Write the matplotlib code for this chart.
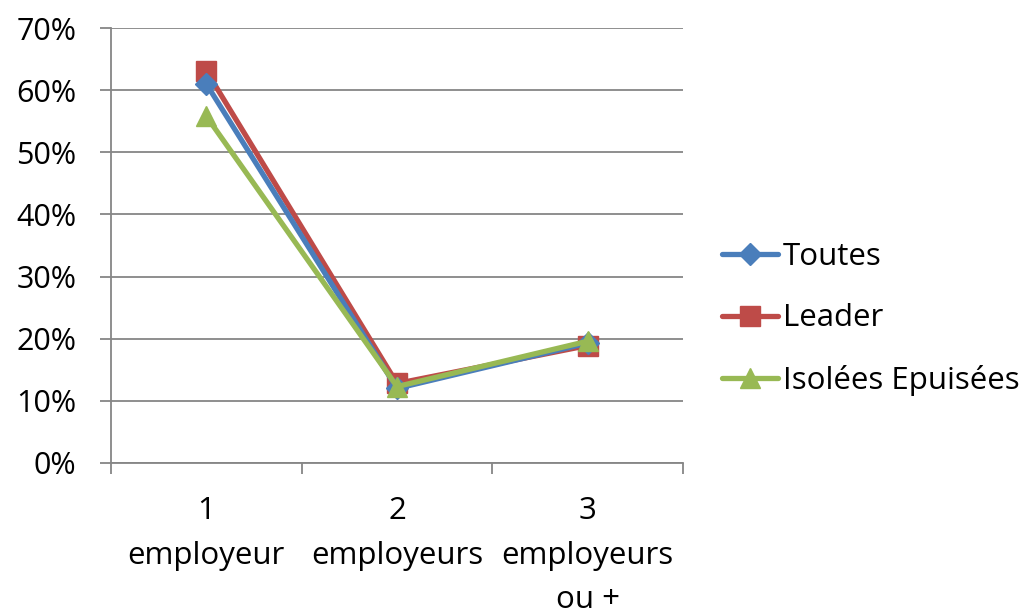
import matplotlib
matplotlib.use("Agg")
import matplotlib.pyplot as plt
from matplotlib.ticker import FixedLocator, PercentFormatter

categories = ["1\nemployeur", "2\nemployeurs", "3\nemployeurs\nou +"]
toutes = [61.0, 12.0, 19.3]
leader = [63.1, 12.8, 18.9]
isolees = [55.8, 12.3, 19.6]
series_names = ["Toutes", "Leader", "Isolées Epuisées"]
y_ticks = [0, 10, 20, 30, 40, 50, 60, 70]

plt.rcParams['font.family'] = ['Open Sans', 'DejaVu Sans']

W, H = 1030, 615
fig = plt.figure(figsize=(W/100, H/100), dpi=100)
ax = fig.add_axes([111/W, 1 - 463/H, (683-111)/W, (463-28)/H])

x = list(range(len(categories)))
lw = 3.8
ax.plot(x, toutes, color="#4A7EBB", lw=lw, marker="D", ms=11, label=series_names[0],
        zorder=3, solid_capstyle="round")
ax.plot(x, leader, color="#BE4B48", lw=lw, marker="s", ms=14, label=series_names[1],
        zorder=2, solid_capstyle="round")
ax.plot(x, isolees, color="#98B954", lw=lw, marker="^", ms=15, label=series_names[2],
        zorder=4, solid_capstyle="round")

ax.set_xlim(-0.5, 2.5)
ax.set_ylim(0, 70)
ax.set_yticks(y_ticks)
ax.yaxis.set_major_formatter(PercentFormatter(decimals=0))
ax.yaxis.grid(True, color="#868686", lw=1.3)
ax.set_axisbelow(True)

ax.set_xticks(x)
ax.set_xticklabels(categories, fontsize=22.5, linespacing=1.62, va="top")
ax.xaxis.set_minor_locator(FixedLocator([-0.5, 0.5, 1.5, 2.5]))
ax.tick_params(axis="x", which="major", length=0, pad=24)
ax.tick_params(axis="x", which="minor", length=8, color="#868686", width=1.3)
ax.tick_params(axis="y", length=8, color="#868686", width=1.3, labelsize=22, pad=17)

for s in ["top", "right"]:
    ax.spines[s].set_visible(False)
for s in ["left", "bottom"]:
    ax.spines[s].set_color("#868686")
    ax.spines[s].set_linewidth(1.3)

leg = ax.legend(loc="center left", bbox_to_anchor=(722/W, 1 - 319/H),
                bbox_transform=fig.transFigure, frameon=False,
                fontsize=22.5, handlelength=1.8, handletextpad=0.15,
                labelspacing=1.02, borderaxespad=0, borderpad=0)

fig.savefig("out.png", dpi=100)
